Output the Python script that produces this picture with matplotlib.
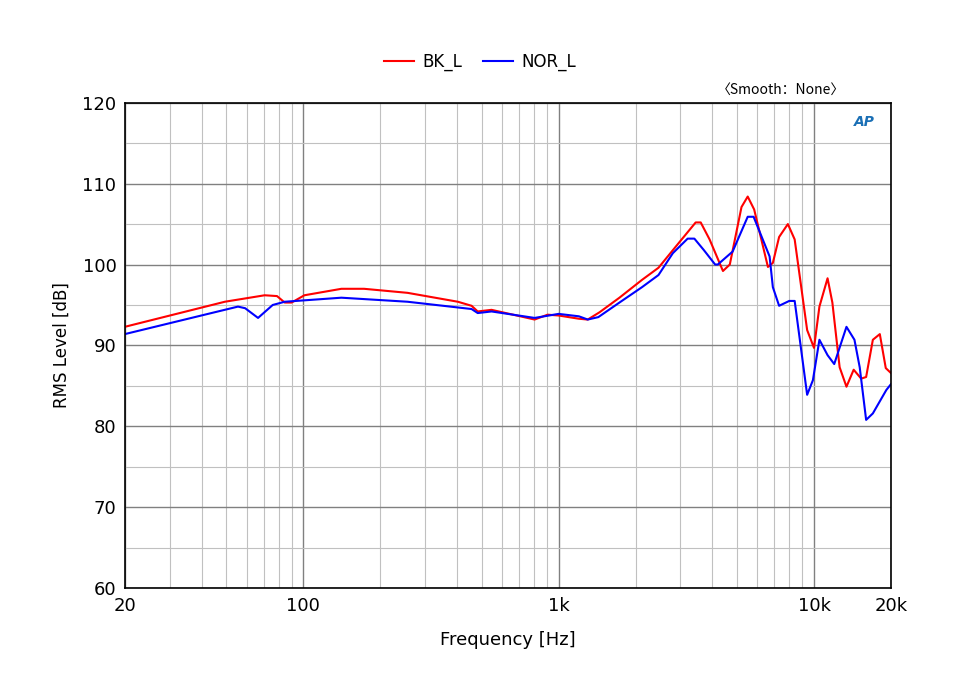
import matplotlib
matplotlib.use("Agg")
import matplotlib.pyplot as plt
from matplotlib.ticker import FixedLocator, NullFormatter, LogLocator

bk_f = [20, 49.3, 70.6, 78.9, 84.6, 90, 101, 141, 173, 256, 403, 456, 482, 546, 805, 905, 1000, 1200, 1300,
        1446, 1730, 2120, 2460, 2960, 3440, 3600, 3900, 4400, 4680, 5200, 5500, 5830, 6600, 6900, 7300, 7900,
        8400, 9400, 10000, 10500, 11300, 11800, 12600, 13400, 14300, 15300, 16000, 17000, 18100, 19100, 20000]
bk_db = [92.3, 95.4, 96.2, 96.1, 95.3, 95.3, 96.2, 97.0, 97.0, 96.5, 95.4, 94.9, 94.2, 94.4, 93.2, 93.8, 93.7, 93.3, 93.2,
         94.1, 95.9, 98.1, 99.6, 102.7, 105.2, 105.2, 103.1, 99.2, 100.0, 107.1, 108.4, 106.8, 99.7, 100.2, 103.4, 105.0,
         103.1, 91.9, 89.7, 94.8, 98.3, 95.3, 87.3, 84.9, 87.0, 85.9, 86.1, 90.7, 91.4, 87.2, 86.6]

nor_f = [20, 55.5, 59.2, 66.5, 75.9, 84.6, 141, 256, 456, 482, 546, 805, 1000, 1200, 1300, 1430,
         1730, 2120, 2460, 2800, 3200, 3400, 3700, 4100, 4200, 4800, 5500, 5800, 6700, 6900, 7300, 8000,
         8400, 9400, 9900, 10500, 11300, 12000, 13400, 14400, 15100, 16000, 17000, 19200, 20000]
nor_db = [91.4, 94.8, 94.6, 93.4, 95.0, 95.4, 95.9, 95.4, 94.5, 94.0, 94.2, 93.4, 93.9, 93.6, 93.2, 93.5,
          95.3, 97.2, 98.7, 101.4, 103.2, 103.2, 101.8, 100.0, 100.0, 101.6, 105.9, 105.9, 101.0, 97.2, 94.9, 95.5,
          95.5, 83.9, 85.7, 90.7, 88.8, 87.7, 92.3, 90.7, 87.3, 80.8, 81.6, 84.5, 85.2]

x_ticks = [20, 100, 1000, 10000, 20000]
x_labels = ["20", "100", "1k", "10k", "20k"]
y_ticks = [60, 70, 80, 90, 100, 110, 120]

fig = plt.figure(figsize=(9.6, 6.8), dpi=100)
ax = fig.add_axes([0.130, 0.135, 0.798, 0.714])
ax.plot(bk_f, bk_db, color="#ff0000", lw=1.5, label="BK_L")
ax.plot(nor_f, nor_db, color="#0000ff", lw=1.5, label="NOR_L")
ax.set_xscale("log")
ax.set_xlim(20, 20000)
ax.set_ylim(60, 120)
ax.xaxis.set_major_locator(FixedLocator(x_ticks))
ax.set_xticklabels(x_labels)
ax.xaxis.set_minor_locator(LogLocator(base=10, subs=range(2, 10), numticks=20))
ax.xaxis.set_minor_formatter(NullFormatter())
ax.set_yticks(y_ticks)
ax.set_yticks(range(65, 120, 10), minor=True)
ax.grid(which="major", color="#808080", lw=1.0)
ax.grid(which="minor", color="#c0c0c0", lw=0.8)
ax.set_axisbelow(True)
ax.tick_params(which="both", length=0, labelsize=13, pad=6)
for s in ax.spines.values():
    s.set_color("black")
    s.set_linewidth(1.2)
ax.set_xlabel("Frequency [Hz]", fontsize=13, labelpad=12)
ax.set_ylabel("RMS Level [dB]", fontsize=12, labelpad=8)
fig.legend(loc="upper center", bbox_to_anchor=(0.5, 0.945), ncol=2, frameon=False, fontsize=12,
           handlelength=1.8, columnspacing=1.2, handletextpad=0.5)
fig.text(0.88, 0.868, "〈Smooth：None〉", ha="right", va="center", fontsize=10,
         family=["Noto Sans CJK SC", "DejaVu Sans"])
ax.text(0.965, 0.96, "AP", transform=ax.transAxes, ha="center", va="center", color="#1a6fb5",
        fontsize=10, style="italic", fontweight="bold")
fig.savefig("out.png", dpi=100)
